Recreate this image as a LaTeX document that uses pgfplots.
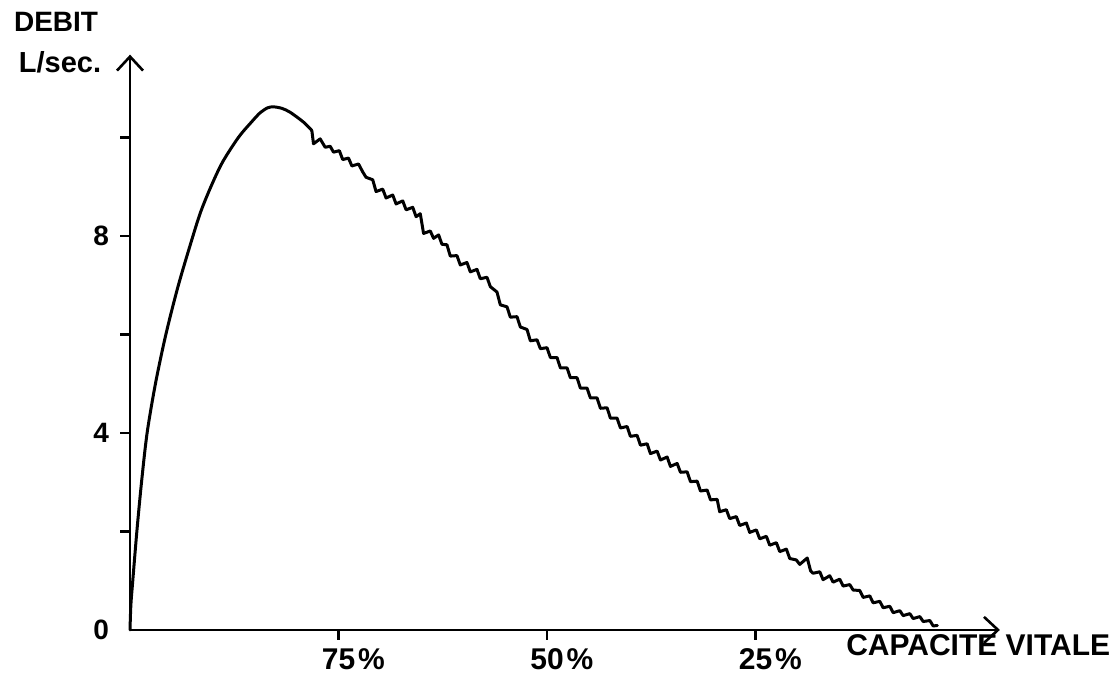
\documentclass[border=0pt]{standalone}
\usepackage{fontspec}
\setmainfont{Liberation Sans}
\usepackage{pgfplots}
\pgfplotsset{compat=1.18}
\usetikzlibrary{arrows.meta}
\begin{document}
\begin{tikzpicture}
\begin{axis}[
  x=4.17pt, y=24.625pt,
  xmin=0, xmax=104.3, ymin=0, ymax=11.68,
  axis lines=left,
  axis line style={line width=1.3pt, -{Straight Barb[length=7pt,width=13pt,line width=1.3pt]}},
  clip=false,
  tick align=outside,
  major tick length=5pt,
  tick style={line width=1.3pt, black},
  xtick={25,50,75},
  xticklabels={75\rlap{\hspace{1.5pt}\%}, 50\rlap{\hspace{1.5pt}\%}, 25\rlap{\hspace{1.5pt}\%}},
  ytick={2,4,6,8,10},
  yticklabels={,4,,8,},
  extra y ticks={0}, extra y tick labels={0},
  extra y tick style={major tick length=0pt, yticklabel style={xshift=-5pt}},
  xticklabel style={font=\bfseries\fontsize{15}{15}\selectfont, yshift=-1pt},
  yticklabel style={font=\bfseries\fontsize{14}{14}\selectfont, xshift=-2pt},
]
\path (axis cs:-15.59,-0.893) rectangle (axis cs:118.7,12.79);
\addplot[black, line width=1.5pt, line join=round, line cap=round, smooth, tension=0.5] coordinates {
(0,0) (0.1,0.5) (0.33,1.0) (0.82,2.0) (1.38,3.0) (2.05,4.0) (3.05,5.0) (4.3,6.0)
(5.8,7.0) (7.55,8.0) (8.5,8.5) (9.7,9.0) (11.1,9.5) (13.0,10.0) (14.5,10.3)
(15.6,10.5) (16.5,10.6) (17.2,10.62) (18.2,10.59) (19.2,10.51) (20.8,10.31) (21.8,10.14)
};
\addplot[black, line width=1.5pt, line join=round, line cap=round] coordinates {
(21.8,10.14) (22.0,9.87) (22.8,9.97) (23.4,9.80) (24.0,9.82)
(24.4,9.70) (25.1,9.73) (25.5,9.55) (26.2,9.58) (26.6,9.42)
(27.4,9.46) (27.9,9.30) (28.3,9.19) (29.1,9.14) (29.5,8.90) (30.3,8.95)
(30.7,8.77) (31.5,8.83) (31.9,8.65) (32.7,8.71) (33.1,8.53) (33.9,8.58) (34.3,8.39)
(34.8,8.45) (35.2,8.05) (36.0,8.10) (36.4,7.95) (37.0,8.02) (37.4,7.83) (38.0,7.82)
(38.4,7.59) (39.2,7.60) (39.6,7.41) (40.4,7.46) (40.8,7.27) (41.6,7.32) (42.0,7.13)
(42.8,7.16) (43.2,6.97) (44.0,6.86) (44.4,6.60) (45.2,6.56) (45.6,6.35) (46.4,6.36)
(46.8,6.15) (47.6,6.10) (48.0,5.87) (48.8,5.89) (49.2,5.71) (50.0,5.73) (50.4,5.53)
(51.2,5.53) (51.6,5.32) (52.4,5.32) (52.8,5.12) (53.6,5.12) (54.0,4.91) (54.8,4.91)
(55.2,4.71) (56.0,4.71) (56.4,4.50) (57.2,4.51) (57.6,4.30) (58.4,4.30) (58.8,4.10)
(59.6,4.13) (60.0,3.93) (60.8,3.95) (61.2,3.75) (62.0,3.78) (62.4,3.58) (63.2,3.63)
(63.6,3.45) (64.4,3.51) (64.8,3.32) (65.6,3.38) (66.0,3.20) (66.8,3.21) (67.2,3.01)
(68.0,3.02) (68.4,2.82) (69.2,2.84) (69.6,2.64) (70.4,2.65) (70.7,2.40) (71.5,2.44)
(71.9,2.26) (72.7,2.30) (73.1,2.12) (73.9,2.17) (74.3,1.98) (75.1,2.03) (75.5,1.85)
(76.3,1.90) (76.7,1.72) (77.5,1.77) (77.9,1.59) (78.7,1.64) (79.1,1.45) (79.9,1.42)
(80.3,1.33) (81.2,1.46) (81.6,1.20) (81.9,1.15) (82.7,1.18) (83.1,1.02) (83.9,1.10)
(84.3,0.97) (85.1,1.03) (85.5,0.89) (86.3,0.92) (86.7,0.81) (87.5,0.80) (87.9,0.66)
(88.7,0.69) (89.1,0.55) (89.9,0.58) (90.3,0.45) (91.1,0.48) (91.5,0.35) (92.3,0.39)
(92.7,0.29) (93.5,0.33) (93.9,0.23) (94.7,0.27) (95.1,0.17) (95.9,0.19) (96.3,0.08)
(96.8,0.09)
};
\node[font=\bfseries\fontsize{14}{14}\selectfont] at (axis cs:-8.87,12.35) {DEBIT};
\node[font=\bfseries\fontsize{14.5}{14.5}\selectfont] at (axis cs:-8.39,11.53) {L/sec.};
\node[font=\bfseries\fontsize{15}{15}\selectfont] at (axis cs:101.7,-0.32) {CAPACITE VITALE};
\end{axis}
\end{tikzpicture}
\end{document}
